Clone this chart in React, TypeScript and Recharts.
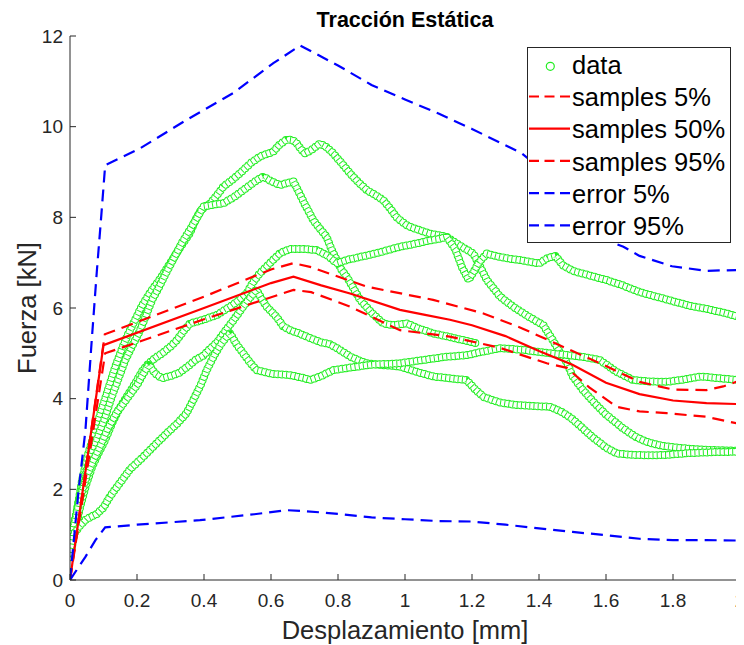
import React from 'react';
import { ComposedChart, Line, XAxis, YAxis } from 'recharts';

// ---------- axis ticks ----------
const xTicks = [0, 0.2, 0.4, 0.6, 0.8, 1, 1.2, 1.4, 1.6, 1.8, 2];
const yTicks = [0, 2, 4, 6, 8, 10, 12];

// ---------- measured specimens ("data"), [desplazamiento mm, fuerza kN] ----------
const specimenA = [
  [0, 0.6], [0.01, 1.1], [0.02, 1.5], [0.036, 2.2], [0.055, 2.8], [0.076, 3.3], [0.09, 3.65], [0.105, 4.0],
  [0.12, 4.35], [0.135, 4.7], [0.155, 5.1], [0.175, 5.45], [0.195, 5.75], [0.215, 6.05], [0.24, 6.35],
  [0.27, 6.65], [0.3, 7.0], [0.33, 7.35], [0.358, 7.65], [0.375, 7.95], [0.39, 8.15], [0.405, 8.25],
  [0.418, 8.3], [0.44, 8.5], [0.458, 8.68], [0.48, 8.8], [0.507, 8.97], [0.54, 9.2], [0.567, 9.34],
  [0.607, 9.45], [0.625, 9.6], [0.647, 9.72], [0.665, 9.7], [0.677, 9.63], [0.69, 9.5], [0.701, 9.41],
  [0.72, 9.48], [0.746, 9.63], [0.766, 9.55], [0.786, 9.41], [0.81, 9.2], [0.836, 8.97], [0.86, 8.78],
  [0.886, 8.6], [0.91, 8.5], [0.935, 8.38], [0.955, 8.2], [0.975, 8.0], [1.0, 7.85], [1.015, 7.79],
  [1.07, 7.65], [1.124, 7.57], [1.17, 7.35], [1.204, 7.2], [1.225, 6.9], [1.244, 6.62], [1.284, 6.25],
  [1.323, 6.03], [1.369, 5.81], [1.413, 5.62], [1.44, 5.3], [1.463, 5.02], [1.483, 4.8], [1.5, 4.5],
  [1.53, 4.2], [1.56, 3.95], [1.6, 3.65], [1.65, 3.35], [1.69, 3.15], [1.72, 3.05], [1.761, 2.97],
  [1.8, 2.93], [1.84, 2.9], [1.9, 2.87], [1.95, 2.86], [2.0, 2.85],
];
const specimenB = [
  [0, 0.7], [0.012, 1.2], [0.025, 1.7], [0.045, 2.3], [0.065, 2.8], [0.085, 3.2], [0.105, 3.6], [0.125, 4.05],
  [0.145, 4.45], [0.165, 4.85], [0.185, 5.15], [0.205, 5.44], [0.225, 5.8], [0.245, 6.18], [0.265, 6.45],
  [0.285, 6.75], [0.31, 7.1], [0.335, 7.45], [0.36, 7.75], [0.38, 8.0], [0.398, 8.24], [0.43, 8.28],
  [0.458, 8.31], [0.49, 8.45], [0.517, 8.6], [0.55, 8.78], [0.577, 8.9], [0.6, 8.8], [0.627, 8.71],
  [0.65, 8.76], [0.667, 8.79], [0.68, 8.6], [0.7, 8.3], [0.726, 7.94], [0.746, 7.75], [0.766, 7.57],
  [0.78, 7.3], [0.796, 7.06], [0.81, 6.85], [0.826, 6.69], [0.845, 6.45], [0.866, 6.18], [0.9, 5.9],
  [0.935, 5.66], [0.965, 5.62], [1.005, 5.66], [1.04, 5.55], [1.084, 5.44], [1.14, 5.35], [1.18, 5.28],
  [1.214, 5.22],
];
const specimenC = [
  [0, 0.5], [0.015, 1.1], [0.03, 1.6], [0.048, 2.1], [0.066, 2.5], [0.085, 2.8], [0.105, 3.09], [0.125, 3.45],
  [0.145, 3.75], [0.17, 4.05], [0.195, 4.34], [0.215, 4.6], [0.235, 4.78], [0.255, 4.9], [0.275, 5.0],
  [0.3, 5.15], [0.32, 5.3], [0.34, 5.5], [0.358, 5.66], [0.378, 5.7], [0.398, 5.74], [0.42, 5.8],
  [0.44, 5.85], [0.46, 5.95], [0.478, 6.03], [0.5, 6.15], [0.527, 6.32], [0.545, 6.55], [0.565, 6.75],
  [0.585, 6.9], [0.605, 7.05], [0.627, 7.21], [0.657, 7.3], [0.7, 7.3], [0.736, 7.28], [0.77, 7.15],
  [0.796, 6.99], [0.826, 7.06], [0.85, 7.1], [0.88, 7.15], [0.91, 7.2], [0.935, 7.25], [0.96, 7.3],
  [0.985, 7.35], [1.02, 7.4], [1.05, 7.45], [1.08, 7.5], [1.1, 7.52], [1.124, 7.57], [1.15, 7.3],
  [1.17, 6.9], [1.19, 6.62], [1.205, 6.8], [1.22, 7.0], [1.244, 7.2], [1.27, 7.15], [1.3, 7.1],
  [1.35, 7.05], [1.4, 6.98], [1.425, 7.1], [1.45, 7.15], [1.47, 6.95], [1.5, 6.82], [1.55, 6.72],
  [1.6, 6.62], [1.65, 6.5], [1.7, 6.35], [1.75, 6.25], [1.8, 6.15], [1.85, 6.05], [1.9, 5.98],
  [1.95, 5.9], [2.0, 5.8],
];
const specimenD = [
  [0, 0.8], [0.015, 1.3], [0.03, 1.8], [0.05, 2.3], [0.07, 2.65], [0.09, 2.95], [0.11, 3.3], [0.125, 3.5],
  [0.14, 3.7], [0.155, 3.85], [0.17, 4.0], [0.185, 4.15], [0.2, 4.3], [0.215, 4.5], [0.235, 4.75],
  [0.255, 4.55], [0.275, 4.45], [0.3, 4.5], [0.324, 4.56], [0.35, 4.7], [0.374, 4.85], [0.398, 4.95],
  [0.414, 5.07], [0.44, 5.25], [0.458, 5.44], [0.49, 5.75], [0.517, 6.03], [0.54, 6.25], [0.557, 6.4],
  [0.572, 6.2], [0.587, 6.03], [0.617, 5.8], [0.637, 5.59], [0.66, 5.5], [0.68, 5.45], [0.706, 5.37],
  [0.746, 5.25], [0.776, 5.2], [0.8, 5.1], [0.836, 4.93], [0.86, 4.85], [0.886, 4.78], [0.935, 4.74],
  [0.985, 4.71], [1.03, 4.6], [1.084, 4.49], [1.13, 4.45], [1.184, 4.41], [1.21, 4.2], [1.234, 4.04],
  [1.28, 3.92], [1.333, 3.86], [1.38, 3.84], [1.433, 3.82], [1.47, 3.7], [1.5, 3.55], [1.53, 3.35],
  [1.56, 3.15], [1.6, 2.92], [1.632, 2.79], [1.68, 2.76], [1.73, 2.75], [1.781, 2.76], [1.85, 2.8],
  [1.92, 2.82], [2.0, 2.83],
];
const specimenE = [
  [0, 0.6], [0.01, 1.0], [0.03, 1.2], [0.05, 1.35], [0.079, 1.45], [0.1, 1.6], [0.119, 1.84], [0.15, 2.15],
  [0.18, 2.45], [0.209, 2.65], [0.25, 2.95], [0.289, 3.24], [0.32, 3.45], [0.348, 3.68], [0.37, 4.0],
  [0.39, 4.3], [0.408, 4.63], [0.43, 4.95], [0.45, 5.2], [0.468, 5.37], [0.478, 5.44], [0.497, 5.2],
  [0.517, 5.0], [0.537, 4.8], [0.557, 4.63], [0.6, 4.55], [0.657, 4.52], [0.7, 4.45], [0.716, 4.41],
  [0.75, 4.5], [0.785, 4.63], [0.85, 4.7], [0.9, 4.75], [0.985, 4.78], [1.05, 4.85], [1.12, 4.92],
  [1.184, 4.96], [1.24, 5.05], [1.284, 5.11], [1.35, 5.08], [1.433, 5.0], [1.5, 4.95], [1.55, 4.9],
  [1.582, 4.85], [1.63, 4.6], [1.681, 4.41], [1.73, 4.38], [1.781, 4.37], [1.83, 4.42], [1.881, 4.49],
  [1.94, 4.45], [2.0, 4.41],
];

// ---------- model percentiles ----------
const samples5 = [
  [0, 0], [0.105, 5.0], [0.4, 5.75], [0.667, 6.4], [0.72, 6.35], [0.836, 6.03], [0.985, 5.51],
  [1.134, 5.37], [1.284, 5.12], [1.423, 4.78], [1.483, 4.68], [1.55, 4.25], [1.632, 3.82],
  [1.7, 3.72], [1.781, 3.68], [1.9, 3.6], [2.0, 3.44],
];
const samples50 = [
  [0, 0], [0.1, 5.18], [0.4, 6.0], [0.6, 6.55], [0.667, 6.69], [0.75, 6.5], [0.836, 6.32], [0.985, 5.96],
  [1.06, 5.85], [1.134, 5.74], [1.2, 5.62], [1.3, 5.38], [1.4, 5.05], [1.5, 4.75], [1.6, 4.35],
  [1.7, 4.1], [1.8, 3.96], [1.9, 3.9], [2.0, 3.88],
];
const samples95 = [
  [0, 0], [0.104, 5.42], [0.4, 6.25], [0.6, 6.85], [0.667, 6.99], [0.72, 6.9], [0.886, 6.47],
  [1.084, 6.18], [1.234, 5.88], [1.35, 5.55], [1.5, 5.05], [1.6, 4.72], [1.7, 4.37], [1.8, 4.2],
  [1.9, 4.19], [1.95, 4.27], [2.0, 4.4],
];
const error5 = [
  [0, 0], [0.046, 0.51], [0.076, 0.88], [0.105, 1.16], [0.2, 1.22], [0.388, 1.32], [0.55, 1.45],
  [0.647, 1.54], [0.7, 1.52], [0.8, 1.46], [0.9, 1.38], [1.0, 1.34], [1.1, 1.3], [1.2, 1.29],
  [1.3, 1.22], [1.4, 1.14], [1.5, 1.06], [1.6, 0.99], [1.7, 0.91], [1.8, 0.88], [1.9, 0.88], [2.0, 0.87],
];
const error95 = [
  [0, 0], [0.026, 2.0], [0.046, 3.3], [0.065, 5.3], [0.08, 6.8], [0.093, 8.0], [0.105, 9.15],
  [0.209, 9.52], [0.348, 10.15], [0.487, 10.74], [0.607, 11.4], [0.687, 11.79], [0.8, 11.35],
  [0.9, 10.92], [1.0, 10.6], [1.1, 10.29], [1.2, 9.95], [1.349, 9.41], [1.45, 8.8], [1.55, 8.0],
  [1.6, 7.5], [1.652, 7.35], [1.7, 7.15], [1.797, 6.92], [1.9, 6.82], [2.0, 6.84],
];

// ---------- legend ----------
const legendLabels = ['data', 'samples 5%', 'samples 50%', 'samples 95%', 'error 5%', 'error 95%'];
const legendColors = ['#22ee22', '#ff0000', '#ff0000', '#ff0000', '#0000ff', '#0000ff'];
const legendKinds = ['marker', 'dash', 'solid', 'dash', 'dash', 'dash'];

const titleText = 'Tracción Estática';
const xLabelText = 'Desplazamiento [mm]';
const yLabelText = 'Fuerza [kN]';

const FONT = '"Liberation Sans", Arial, Helvetica, sans-serif';
const AX = '#262626';
const GREEN = '#22ee22';

const toPts = (a: number[][]) => a.map(([x, y]) => ({ x, y }));

const specimens = [specimenA, specimenB, specimenC, specimenD, specimenE].map(toPts);

const modelSeries = [
  { key: 's5', data: toPts(samples5), color: '#ff0000', dash: '12 7' },
  { key: 's50', data: toPts(samples50), color: '#ff0000', dash: undefined },
  { key: 's95', data: toPts(samples95), color: '#ff0000', dash: '12 7' },
  { key: 'e5', data: toPts(error5), color: '#0000ff', dash: '12 7' },
  { key: 'e95', data: toPts(error95), color: '#0000ff', dash: '12 7' },
];

const W = 736;
const H = 637;

export default function App() {
  const common = {
    xAxisId: 'b',
    yAxisId: 'l',
    dataKey: 'y',
    type: 'linear' as const,
    dot: false,
    activeDot: false,
    isAnimationActive: false,
    legendType: 'none' as const,
  };
  const ringLayers: React.ReactNode[] = [];
  specimens.forEach((d, i) => {
    ringLayers.push(
      <Line key={`go${i}`} {...common} data={d} stroke={GREEN} strokeWidth={8}
        strokeDasharray="0 4.2" strokeLinecap="round" strokeLinejoin="round" />,
      <Line key={`gw${i}`} {...common} data={d} stroke="#ffffff" strokeWidth={6}
        strokeDasharray="0 4.2" strokeLinecap="round" strokeLinejoin="round" />,
      <Line key={`gb${i}`} {...common} data={d} stroke={GREEN} strokeWidth={6}
        strokeDasharray="1 3.2" strokeLinecap="butt" strokeLinejoin="round" />,
    );
  });

  return (
    <div style={{ position: 'relative', width: W, height: H }}>
      <ComposedChart width={W} height={H} margin={{ top: 28, right: 4, left: 22, bottom: 35 }}>
        <XAxis xAxisId="b" type="number" dataKey="x" domain={[0, 2]} ticks={xTicks} interval={0}
          allowDataOverflow height={30} tickSize={-6} tickMargin={20}
          axisLine={{ stroke: AX }} tickLine={{ stroke: AX }}
          tick={{ fill: AX, fontSize: 19, fontFamily: FONT }}
          tickFormatter={(v: number) => String(v)} />
        <XAxis xAxisId="t" type="number" orientation="top" domain={[0, 2]} ticks={xTicks} interval={0}
          allowDataOverflow height={0} tickSize={-6} axisLine={{ stroke: AX }} tickLine={{ stroke: AX }}
          tick={false} />
        <YAxis yAxisId="l" type="number" domain={[0, 12]} ticks={yTicks} interval={0} allowDataOverflow
          width={40} tickSize={-6} tickMargin={13} axisLine={{ stroke: AX }} tickLine={{ stroke: AX }}
          tick={{ fill: AX, fontSize: 19, fontFamily: FONT }} />
        <YAxis yAxisId="r" type="number" orientation="right" domain={[0, 12]} ticks={yTicks} interval={0}
          allowDataOverflow width={0} tickSize={-6} axisLine={{ stroke: AX }} tickLine={{ stroke: AX }}
          tick={false} />
        {ringLayers}
        {modelSeries.map((s) => (
          <Line key={s.key} {...common} data={s.data} stroke={s.color} strokeWidth={2.2}
            strokeDasharray={s.dash} />
        ))}
      </ComposedChart>
      <svg width={W} height={H} style={{ position: 'absolute', left: 0, top: 0, pointerEvents: 'none' }}>
        <text x={397} y={19} textAnchor="middle" fontFamily={FONT} fontWeight="bold" fontSize={21.5}
          fill="#000">{titleText}</text>
        <text x={397} y={631} textAnchor="middle" fontFamily={FONT} fontSize={25.5} fill={AX}>{xLabelText}</text>
        <text x={27.5} y={300} textAnchor="middle" fontFamily={FONT} fontSize={25.5} fill={AX}
          transform="rotate(-90, 27.5, 300)">{yLabelText}</text>
        <g>
          <rect x={519.5} y={39.5} width={203} height={195} fill="#fff" stroke={AX} strokeWidth={1} />
          {legendLabels.map((lab, i) => {
            const base = 66 + 32.2 * i;
            const ly = base - 9.7;
            const kind = legendKinds[i];
            return (
              <g key={lab}>
                {kind === 'marker' ? (
                  <circle cx={542.3} cy={ly + 2} r={4} fill="none" stroke={legendColors[i]} strokeWidth={1.2} />
                ) : (
                  <line x1={521} x2={562} y1={ly} y2={ly} stroke={legendColors[i]} strokeWidth={2.2}
                    strokeDasharray={kind === 'dash' ? '10 5.5' : undefined} />
                )}
                <text x={564} y={base} fontFamily={FONT} fontSize={25.5} fill="#000">{lab}</text>
              </g>
            );
          })}
        </g>
      </svg>
    </div>
  );
}
